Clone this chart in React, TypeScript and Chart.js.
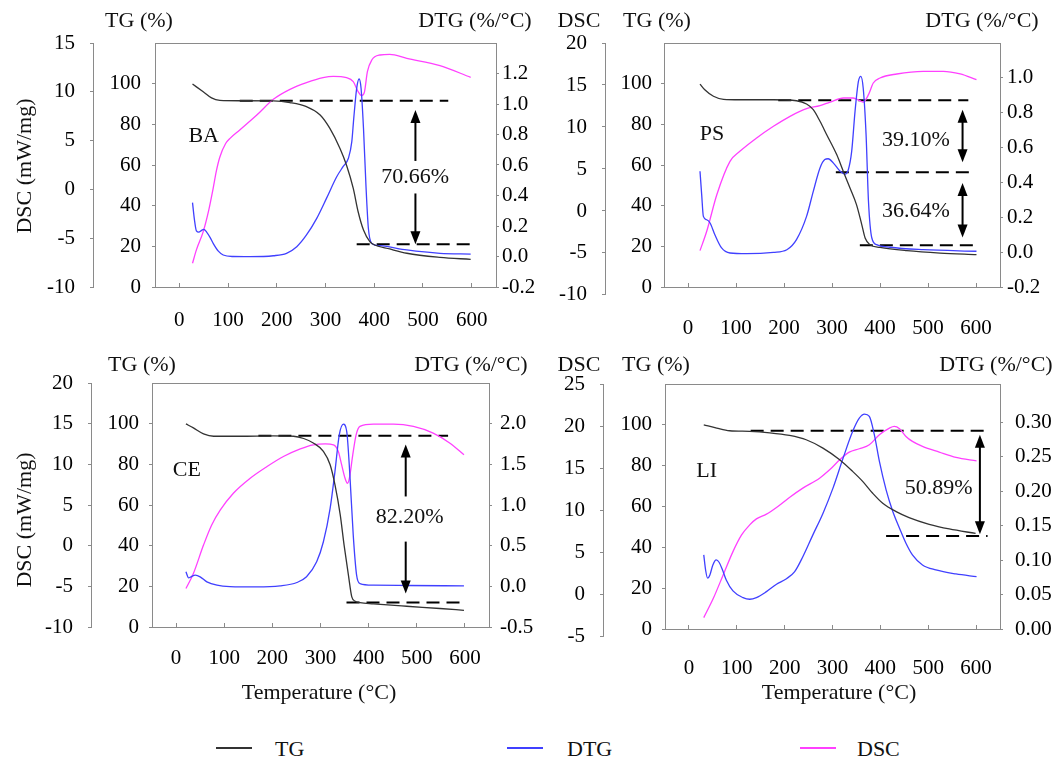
import React, { useEffect, useRef } from "react";
import { Chart, registerables } from "chart.js";

Chart.register(...registerables);

const SERIF = "'Liberation Serif', 'Times New Roman', serif";
const TG_COLOR = "#333333";
const DTG_COLOR = "#4040ff";
const DSC_COLOR = "#ff40ff";
const AXIS_COLOR = "#8a8a8a";

// ---------- shared ticks ----------
const xTicks = [0, 100, 200, 300, 400, 500, 600];
const tgTicks = [0, 20, 40, 60, 80, 100];

// ---------- BA ----------
const baTgT = [27, 49, 66, 83, 124, 193, 227, 261, 289, 309, 330, 343, 357, 367, 378, 391, 398, 432, 467, 535, 598];
const baTgV = [99.8, 96, 93, 91.8, 91.6, 91.5, 90.7, 88.7, 84.6, 78, 68, 60, 48.5, 37, 28, 22.3, 21, 18.7, 16.6, 14.6, 13.6];
const baDtgT = [27, 31, 35, 40, 45, 50, 56, 63, 70, 80, 90, 110, 145, 193, 220, 241, 261, 282, 302, 323, 336, 347, 354, 358, 364, 369, 373, 378, 383, 388, 395, 412, 467, 535, 598];
const baDtgV = [0.353, 0.24, 0.168, 0.16, 0.17, 0.178, 0.16, 0.125, 0.083, 0.035, 0.01, 0.0, -0.001, 0.005, 0.021, 0.064, 0.141, 0.25, 0.381, 0.523, 0.589, 0.644, 0.753, 0.906, 1.103, 1.164, 1.103, 0.84, 0.469, 0.185, 0.086, 0.071, 0.043, 0.021, 0.016];
const baDscT = [27, 35, 49, 60, 69, 76, 83, 95, 104, 124, 159, 193, 227, 261, 295, 316, 343, 357, 367, 374, 380, 386, 395, 412, 432, 467, 535, 598];
const baDscV = [-7.57, -6.2, -4.33, -2.2, 0, 1.9, 3.3, 4.7, 5.23, 6.09, 7.62, 9.23, 10.25, 10.94, 11.45, 11.58, 11.45, 11.04, 10.01, 9.6, 10.0, 12.06, 13.26, 13.77, 13.84, 13.43, 12.68, 11.48];
const baDscTicks = [-10, -5, 0, 5, 10, 15];
const baDtgTicks = [-0.2, 0, 0.2, 0.4, 0.6, 0.8, 1.0, 1.2];
const baDashes = [[124, 552, 91.6], [364, 603, 21]];
const baArrows = [[484.6, 87, 62, 1, 0], [484.6, 46, 21, 0, 1]];
const baLabels: [string, number, number][] = [["BA", 50, 74], ["70.66%", 484, 53.8]];

// ---------- PS ----------
const psTgT = [25, 35, 53, 74, 108, 178, 226, 247, 261, 275, 289, 310, 324, 337.5, 351, 362, 369, 379, 400, 456, 525, 601];
const psTgV = [99.8, 97, 93.8, 92.3, 92.1, 92.1, 91.6, 90, 87.2, 81.5, 74.9, 65, 56.6, 48.7, 40.5, 30.7, 24.1, 20.8, 19.5, 17.9, 16.7, 15.9];
const psDtgT = [25, 28.5, 32, 39, 46, 56, 70, 87.5, 122, 178, 206, 226, 247, 261, 275, 285, 292, 303, 317, 327, 334, 341, 348, 355, 360, 365, 371, 376, 383, 393, 421, 490, 601];
const psDtgV = [0.464, 0.33, 0.205, 0.186, 0.167, 0.1, 0.024, -0.005, -0.009, -0.001, 0.014, 0.072, 0.205, 0.349, 0.483, 0.531, 0.536, 0.511, 0.464, 0.448, 0.473, 0.578, 0.808, 0.98, 1.009, 0.942, 0.674, 0.291, 0.081, 0.043, 0.028, 0.014, 0.005];
const psDscT = [25, 39, 60, 87.5, 108, 143, 178, 212.5, 247, 275, 296, 324, 344, 358, 365, 376, 386, 400, 435, 490, 532, 567, 601];
const psDscV = [-4.72, -2.42, 1.94, 5.91, 7.1, 8.69, 10.08, 11.27, 12.18, 12.54, 12.97, 13.45, 13.45, 13.13, 12.97, 13.85, 15.24, 15.83, 16.31, 16.62, 16.62, 16.31, 15.63];
const psDscTicks = [-10, -5, 0, 5, 10, 15, 20];
const psDtgTicks = [-0.2, 0, 0.2, 0.4, 0.6, 0.8, 1.0];
const psDashes = [[188, 584, 91.8], [308, 594, 56.4], [358, 594, 20.5]];
const psArrows = [[572, 87.2, 61.3, 1, 1], [572, 51.1, 24.4, 1, 1]];
const psLabels: [string, number, number][] = [["PS", 50, 75], ["39.10%", 475, 72], ["36.64%", 475, 37.2]];

// ---------- CE ----------
const ceTgT = [20.5, 36, 57, 78, 133, 202, 244, 265, 285, 306, 320, 330, 341, 349, 358, 365, 372, 382, 410, 479, 548, 598];
const ceTgV = [99.9, 97.9, 95, 93.8, 93.8, 94, 93.8, 92.7, 90.5, 86.4, 79.8, 70, 55.1, 40.3, 25.5, 14.8, 12.7, 12, 11.4, 10.2, 9.1, 8.2];
const ceDtgT = [20.5, 26, 31, 40, 50, 64, 85, 112, 168, 216, 251, 271, 292, 306, 320, 330, 339, 347.5, 354.5, 361, 368, 375, 382, 410, 479, 598];
const ceDtgV = [0.178, 0.104, 0.117, 0.137, 0.117, 0.055, 0.014, -0.003, -0.007, 0.006, 0.047, 0.117, 0.301, 0.548, 0.959, 1.411, 1.863, 1.995, 1.904, 1.37, 0.63, 0.137, 0.034, 0.014, 0.01, 0.006];
const ceDscT = [20.5, 36, 57, 74, 92, 119, 154, 189, 223, 258, 285, 310, 327, 337, 344, 351, 356, 360, 367, 374, 382, 410, 451.5, 493, 534, 569, 598];
const ceDscV = [-5.27, -3.42, 0.07, 2.54, 4.39, 6.44, 8.29, 9.73, 10.96, 11.9, 12.4, 12.52, 12.4, 11.58, 9.93, 8.29, 7.67, 8.29, 11.17, 13.63, 14.66, 14.95, 14.95, 14.66, 13.84, 12.6, 11.17];
const ceDscTicks = [-10, -5, 0, 5, 10, 15, 20];
const ceDtgTicks = [-0.5, 0, 0.5, 1.0, 1.5, 2.0];
const ceDashes = [[171, 565, 94], [354, 600, 12]];
const ceArrows = [[477, 89.7, 64.2, 1, 0], [477, 42, 16.5, 0, 1]];
const ceLabels: [string, number, number][] = [["CE", 22.5, 76.9], ["82.20%", 485, 53.8]];

// ---------- LI ----------
const liTgT = [31, 58, 85, 127, 169, 210, 245, 280, 315, 342, 363, 384, 405, 433, 460, 502, 544, 599];
const liTgV = [100, 98.4, 97.1, 96.8, 96.1, 94.8, 92.7, 88.6, 82.9, 77.2, 72.3, 66.5, 61.6, 57.5, 54.6, 51.3, 49, 46.8];
const liDtgT = [31, 35, 39, 44, 50, 57, 63, 70, 78, 92, 113, 127, 141, 162, 183, 203, 221, 238, 259, 280, 301, 322, 342, 356, 367, 377, 387.5, 398, 412, 426, 440, 453.5, 467, 488, 516, 558, 601];
const liDtgV = [0.1077, 0.085, 0.074, 0.079, 0.093, 0.1004, 0.097, 0.086, 0.0713, 0.0553, 0.0456, 0.0432, 0.0456, 0.0543, 0.065, 0.0727, 0.0834, 0.105, 0.1368, 0.168, 0.2047, 0.248, 0.287, 0.3065, 0.3123, 0.309, 0.282, 0.2435, 0.2022, 0.1707, 0.1465, 0.1246, 0.1077, 0.0931, 0.0858, 0.08, 0.0761];
const liDscT = [31, 51, 71.5, 92, 110, 127, 141, 162, 183, 210, 238, 273, 294, 315, 335, 356, 377, 398, 419, 429, 440, 453.5, 467, 488, 523, 558, 601];
const liDscV = [-2.71, -0.42, 2.35, 5.12, 7.1, 8.29, 9.0, 9.56, 10.35, 11.54, 12.65, 13.83, 14.82, 16.01, 16.92, 17.32, 17.79, 18.98, 19.77, 19.97, 19.7, 18.78, 18.19, 17.6, 16.92, 16.29, 15.89];
const liDscTicks = [-5, 0, 5, 10, 15, 20, 25];
const liDtgTicks = [0, 0.05, 0.1, 0.15, 0.2, 0.25, 0.3];
const liDashes = [[129, 624, 97.1], [412, 624, 45.6]];
const liArrows = [[608, 95.1, 46.4, 1, 1]];
const liLabels: [string, number, number][] = [["LI", 37, 77.2], ["50.89%", 522, 69]];

type Geo = {
  cl: number; ct: number; cw: number; ch: number;
  l: number; r: number; t: number; b: number; dscX: number;
  tgPad: number; dscPad: number; dtgPad: number; xPad: number;
};

type Panel = {
  name: string;
  tg: [number[], number[]];
  dtg: [number[], number[]];
  dsc: [number[], number[]];
  dscRange: [number, number];
  dtgRange: [number, number];
  dscTicks: number[];
  dtgTicks: number[];
  dtgDec: number;
  dashes: number[][];
  arrows: number[][];
  labels: [string, number, number][];
  geo: Geo;
};

const panels: Panel[] = [
  {
    name: "BA", tg: [baTgT, baTgV], dtg: [baDtgT, baDtgV], dsc: [baDscT, baDscV],
    dscRange: [-10, 15], dtgRange: [-0.2, 1.4], dscTicks: baDscTicks, dtgTicks: baDtgTicks, dtgDec: 1,
    dashes: baDashes, arrows: baArrows, labels: baLabels,
    geo: { cl: 0, ct: 30, cw: 540, ch: 315, l: 155, r: 496, t: 43, b: 287, dscX: 93, tgPad: 11, dscPad: 15, dtgPad: 3, xPad: 25 },
  },
  {
    name: "PS", tg: [psTgT, psTgV], dtg: [psDtgT, psDtgV], dsc: [psDscT, psDscV],
    dscRange: [-9.05, 20], dtgRange: [-0.2, 1.2], dscTicks: psDscTicks, dtgTicks: psDtgTicks, dtgDec: 1,
    dashes: psDashes, arrows: psArrows, labels: psLabels,
    geo: { cl: 545, ct: 30, cw: 512, ch: 315, l: 664, r: 1000, t: 43, b: 287, dscX: 605, tgPad: 9, dscPad: 15, dtgPad: 4, xPad: 33 },
  },
  {
    name: "CE", tg: [ceTgT, ceTgV], dtg: [ceDtgT, ceDtgV], dsc: [ceDscT, ceDscV],
    dscRange: [-10, 20], dtgRange: [-0.5, 2.5], dscTicks: ceDscTicks, dtgTicks: ceDtgTicks, dtgDec: 1,
    dashes: ceDashes, arrows: ceArrows, labels: ceLabels,
    geo: { cl: 0, ct: 370, cw: 540, ch: 315, l: 152, r: 489, t: 383, b: 627, dscX: 91, tgPad: 10, dscPad: 15, dtgPad: 8, xPad: 23 },
  },
  {
    name: "LI", tg: [liTgT, liTgV], dtg: [liDtgT, liDtgV], dsc: [liDscT, liDscV],
    dscRange: [-4.06, 25], dtgRange: [0, 0.356], dscTicks: liDscTicks, dtgTicks: liDtgTicks, dtgDec: 2,
    dashes: liDashes, arrows: liArrows, labels: liLabels,
    geo: { cl: 545, ct: 370, cw: 512, ch: 315, l: 665, r: 1000, t: 384, b: 629, dscX: 603, tgPad: 10, dscPad: 15, dtgPad: 12, xPad: 31 },
  },
];

function drawHead(ctx: CanvasRenderingContext2D, x: number, y: number, dir: number) {
  // dir -1: pointing up (tip at y), +1: pointing down
  ctx.beginPath();
  ctx.moveTo(x, y);
  ctx.lineTo(x - 5, y - dir * 13);
  ctx.lineTo(x + 5, y - dir * 13);
  ctx.closePath();
  ctx.fill();
}

function annotPlugin(p: Panel) {
  return {
    id: "annot" + p.name,
    afterDatasetsDraw(chart: any) {
      const { ctx, chartArea: a } = chart;
      const xs = chart.scales.x;
      const ys = chart.scales.tg;
      const ds = chart.scales.dsc;
      ctx.save();
      // top border of the plot box
      ctx.strokeStyle = AXIS_COLOR;
      ctx.lineWidth = 1;
      ctx.beginPath();
      const ty = Math.round(a.top) + 0.5;
      ctx.moveTo(a.left, ty);
      ctx.lineTo(a.right, ty);
      ctx.stroke();
      // extension of the DSC axis below the plot when its lowest tick lies below
      const low = p.dscTicks[0];
      if (low < ds.min) {
        const bx = Math.round(ds.right - 0.5) + 0.5;
        ctx.beginPath();
        ctx.moveTo(bx, a.bottom);
        ctx.lineTo(bx, ds.getPixelForValue(low));
        ctx.stroke();
      }
      // arrows
      ctx.fillStyle = "#000";
      ctx.strokeStyle = "#000";
      ctx.lineWidth = 2;
      for (const [xv, y1, y2, h1, h2] of p.arrows) {
        const x = xs.getPixelForValue(xv);
        const p1 = ys.getPixelForValue(y1);
        const p2 = ys.getPixelForValue(y2);
        ctx.beginPath();
        ctx.moveTo(x, p1 + (h1 ? 8 : 0));
        ctx.lineTo(x, p2 - (h2 ? 8 : 0));
        ctx.stroke();
        if (h1) drawHead(ctx, x, p1, -1);
        if (h2) drawHead(ctx, x, p2, 1);
      }
      // in-plot text
      ctx.font = `22px ${SERIF}`;
      ctx.textAlign = "center";
      ctx.textBaseline = "middle";
      ctx.fillStyle = "#111";
      for (const [txt, xv, yv] of p.labels) {
        ctx.fillText(txt, xs.getPixelForValue(xv), ys.getPixelForValue(yv));
      }
      ctx.restore();
    },
  };
}

function makeConfig(p: Panel): any {
  const g = p.geo;
  const font = { family: SERIF, size: 21 };
  const pts = (t: number[], v: number[]) => t.map((x, i) => ({ x, y: v[i] }));
  const curve = (label: string, s: [number[], number[]], color: string, axis: string) => ({
    label, data: pts(s[0], s[1]), borderColor: color, backgroundColor: color, borderWidth: 1.3,
    pointRadius: 0, cubicInterpolationMode: "monotone", yAxisID: axis, fill: false,
  });
  const dashSets = p.dashes.map((d) => ({
    label: "level", data: [{ x: d[0], y: d[2] }, { x: d[1], y: d[2] }],
    borderColor: "#000", borderWidth: 2, borderDash: [13, 7], pointRadius: 0, yAxisID: "tg", fill: false,
  }));
  const setTicks = (vals: number[]) => (s: any) => { s.ticks = vals.map((value) => ({ value })); };
  const grid = (len: number) => ({ drawOnChartArea: false, drawTicks: true, tickLength: len, color: AXIS_COLOR, lineWidth: 1 });
  const border = { display: true, color: AXIS_COLOR, width: 1 };
  const noPad = (s: any) => { s.paddingTop = 0; s.paddingBottom = 0; s.paddingLeft = 0; s.paddingRight = 0; };
  return {
    type: "line",
    data: {
      datasets: [
        curve("TG", p.tg, TG_COLOR, "tg"),
        curve("DTG", p.dtg, DTG_COLOR, "dtg"),
        curve("DSC", p.dsc, DSC_COLOR, "dsc"),
        ...dashSets,
      ],
    },
    options: {
      responsive: false,
      animation: false,
      devicePixelRatio: 1,
      events: [],
      layout: { padding: { top: g.t - g.ct, left: 0, right: 0, bottom: 0 }, autoPadding: false },
      plugins: { legend: { display: false }, tooltip: { enabled: false }, title: { display: false } },
      scales: {
        x: {
          type: "linear", position: "bottom", min: -50, max: 650,
          afterBuildTicks: setTicks(xTicks),
          afterFit: (s: any) => { s.height = g.ch - (g.b - g.ct); noPad(s); },
          grid: grid(-4), border,
          ticks: { font, color: "#000", padding: g.xPad, maxRotation: 0, autoSkip: false, callback: (v: number) => String(v) },
        },
        tg: {
          type: "linear", position: "left", weight: 0, min: 0, max: 120,
          afterBuildTicks: setTicks(tgTicks),
          afterFit: (s: any) => { s.width = g.l - g.dscX; noPad(s); },
          grid: grid(3), border,
          ticks: { font, color: "#000", padding: g.tgPad, autoSkip: false, callback: (v: number) => String(v) },
        },
        dsc: {
          type: "linear", position: "left", weight: 1, min: p.dscRange[0], max: p.dscRange[1],
          afterBuildTicks: setTicks(p.dscTicks),
          afterFit: (s: any) => { s.width = g.dscX - g.cl; noPad(s); },
          grid: grid(3), border,
          ticks: { font, color: "#000", padding: g.dscPad, autoSkip: false, callback: (v: number) => String(v) },
        },
        dtg: {
          type: "linear", position: "right", min: p.dtgRange[0], max: p.dtgRange[1],
          afterBuildTicks: setTicks(p.dtgTicks),
          afterFit: (s: any) => { s.width = g.cl + g.cw - g.r; noPad(s); },
          grid: grid(3), border,
          ticks: { font, color: "#000", padding: g.dtgPad, autoSkip: false, callback: (v: number) => Number(v).toFixed(p.dtgDec) },
        },
      },
    },
    plugins: [annotPlugin(p)],
  };
}

function PanelChart({ p }: { p: Panel }) {
  const ref = useRef<HTMLCanvasElement>(null);
  useEffect(() => {
    const chart = new Chart(ref.current as HTMLCanvasElement, makeConfig(p));
    return () => chart.destroy();
  }, [p]);
  const g = p.geo;
  return (
    <canvas
      ref={ref}
      width={g.cw}
      height={g.ch}
      style={{ position: "absolute", left: g.cl, top: g.ct, width: g.cw, height: g.ch }}
    />
  );
}

type TextItem = { text: string; x: number; y: number; rot?: boolean };
const titles: TextItem[] = [
  { text: "TG (%)", x: 139, y: 20 },
  { text: "DTG (%/°C)", x: 475, y: 20 },
  { text: "DSC (mW/mg)", x: 24, y: 166, rot: true },
  { text: "DSC", x: 579, y: 20 },
  { text: "TG (%)", x: 657, y: 20 },
  { text: "DTG (%/°C)", x: 982, y: 20 },
  { text: "TG (%)", x: 142, y: 364 },
  { text: "DTG (%/°C)", x: 471, y: 364 },
  { text: "DSC (mW/mg)", x: 24, y: 520, rot: true },
  { text: "Temperature (°C)", x: 319, y: 692 },
  { text: "DSC", x: 579, y: 364 },
  { text: "TG (%)", x: 656, y: 364 },
  { text: "DTG (%/°C)", x: 996, y: 364 },
  { text: "Temperature (°C)", x: 839, y: 692 },
];

const legendItems = [
  { label: "TG", color: TG_COLOR, lineX: 216, textX: 275 },
  { label: "DTG", color: DTG_COLOR, lineX: 507, textX: 567 },
  { label: "DSC", color: DSC_COLOR, lineX: 800, textX: 857 },
];

export default function App() {
  return (
    <div style={{ position: "absolute", left: 0, top: 0, width: 1057, height: 760, background: "#fff", overflow: "hidden", fontFamily: SERIF, color: "#111" }}>
      {panels.map((p) => (
        <PanelChart key={p.name} p={p} />
      ))}
      {titles.map((t, i) => (
        <div
          key={i}
          style={{
            position: "absolute", left: t.x, top: t.y, fontSize: 22, lineHeight: "22px", whiteSpace: "nowrap",
            transform: t.rot ? "translate(-50%, -50%) rotate(-90deg)" : "translate(-50%, -50%)",
          }}
        >
          {t.text}
        </div>
      ))}
      {legendItems.map((l) => (
        <React.Fragment key={l.label}>
          <div style={{ position: "absolute", left: l.lineX, top: 747, width: 36, height: 2, background: l.color }} />
          <div style={{ position: "absolute", left: l.textX, top: 749, transform: "translateY(-50%)", fontSize: 22, lineHeight: "22px", whiteSpace: "nowrap" }}>
            {l.label}
          </div>
        </React.Fragment>
      ))}
    </div>
  );
}
